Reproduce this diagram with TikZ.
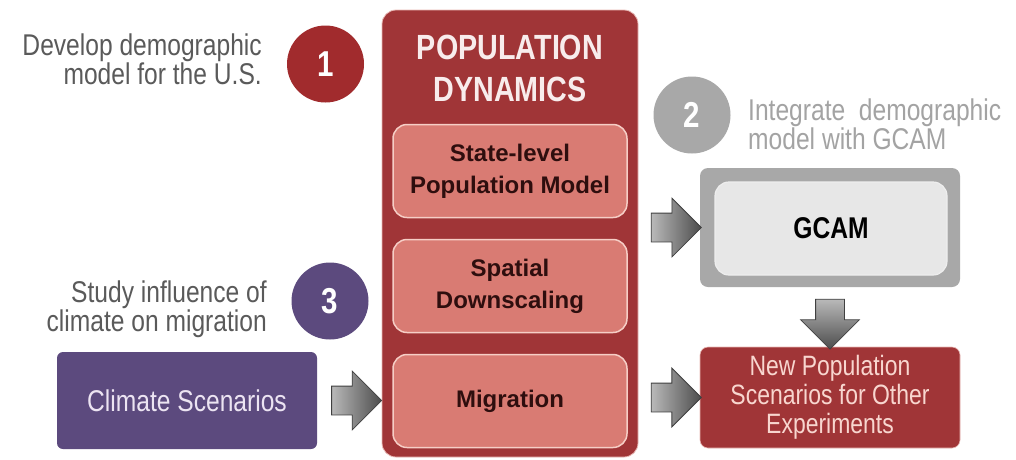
\documentclass[tikz,border=0pt]{standalone}
\usepackage{fontspec}
\setmainfont{Liberation Sans}[FakeStretch=0.82]
\newfontfamily\popwide{Liberation Sans}
\usepackage{tikz}
\usetikzlibrary{shapes.arrows,positioning,calc}
\definecolor{popRed}{HTML}{A03537}
\definecolor{popRedEdge}{HTML}{E9B9B5}
\definecolor{popStage}{HTML}{D97B73}
\definecolor{popStageEdge}{HTML}{F6CEC6}
\definecolor{popStageText}{HTML}{2E0E0E}
\definecolor{popTitle}{HTML}{F8ECEC}
\definecolor{popNum}{HTML}{A12B2D}
\definecolor{popPurple}{HTML}{5C4A7E}
\definecolor{popPurpleText}{HTML}{ECE4F2}
\definecolor{popGray}{HTML}{A8A8A8}
\definecolor{popLight}{HTML}{E7E7E7}
\definecolor{popNote}{HTML}{5A5A5A}
\definecolor{popNoteLight}{HTML}{A3A3A3}
\definecolor{popOutText}{HTML}{F8D6CF}
\tikzset{
  popbox/.style={rectangle,rounded corners=8pt,align=center,inner sep=2pt,
                 font=\fontsize{28}{29}\selectfont},
  popstage/.style={popbox,draw=popStageEdge,line width=1.5pt,fill=popStage,text=popStageText,
                   rounded corners=14pt,minimum width=234pt,minimum height=93pt,
                   font=\popwide\fontsize{24}{32}\selectfont\bfseries},
  popnum/.style={circle,minimum size=77pt,inner sep=0pt,text=white,
                 font=\fontsize{36}{36}\selectfont\bfseries},
  popnote/.style={inner sep=0pt,text=popNote,font=\fontsize{30}{29}\selectfont},
  popflow/.style={single arrow,draw=black!75,line width=0.8pt,minimum height=50pt,inner sep=14pt,
                  single arrow head extend=15pt,left color=gray!55,middle color=gray!25,right color=black!70},
  popdrop/.style={popflow,shape border rotate=270,top color=gray!55,middle color=gray!25,bottom color=black!70},
}
\begin{document}
\begin{tikzpicture}[x=1pt,y=-1pt,node distance=20.5pt]
  \path[use as bounding box,fill=white] (0,0) rectangle (1016,459);

  % population dynamics column
  \node[fill=popRed,draw=popRedEdge,line width=0.8pt,rounded corners=14pt,
        minimum width=256pt,minimum height=447pt] (pop) at (510,233.5) {};
  \node[align=center,inner sep=0pt,text=popTitle,font=\fontsize{35}{42}\selectfont\bfseries]
        (title) at (510,68.5) {POPULATION\\DYNAMICS};
  \node[popstage] (state) at (510,171) {State-level\\Population Model};
  \node[popstage,below=of state] (spatial) {Spatial\\Downscaling};
  \node[popstage,below=of spatial] (migr) {Migration};

  % inputs and outputs
  \node[popbox,fill=popPurple,text=popPurpleText,rounded corners=6pt,font=\fontsize{30}{30}\selectfont,
        minimum width=260pt,minimum height=97pt] (climate) at (187,400.5) {Climate Scenarios};
  \node[fill=popGray,rounded corners=8pt,minimum width=260pt,minimum height=119pt] (gcamframe) at (830,227.5) {};
  \node[popbox,fill=popLight,draw=white!80!popGray,line width=1.2pt,rounded corners=14pt,
        minimum width=232pt,minimum height=93pt,font=\fontsize{30}{30}\selectfont\bfseries] (gcam) at (831,228.5) {GCAM};
  \node[popbox,fill=popRed,draw=popRedEdge,line width=0.6pt,text=popOutText,
        minimum width=260pt,minimum height=101pt] (newpop) at (830,397.5) {New Population\\Scenarios for Other\\Experiments};

  % numbered steps
  \node[popnum,fill=popNum] (n1) at (325.5,64) {1};
  \node[popnum,fill=popGray] (n2) at (692,115) {2};
  \node[popnum,fill=popPurple] (n3) at (330,301) {3};
  \node[popnote,anchor=north east,align=right] (note1) at (262,34) {Develop demographic\\model for the U.S.};
  \node[popnote,anchor=north west,align=left,text=popNoteLight] (note2) at (748,99) {Integrate~ demographic\\model with GCAM};
  \node[popnote,anchor=north east,align=right] (note3) at (267,281) {Study influence of\\climate on migration};

  % block arrows
  \foreach \nm/\a/\b in {toGcam/pop.east |- gcamframe/gcamframe.west,
                         toNew/pop.east |- newpop/newpop.west,
                         toMigr/climate.east/pop.west |- climate}{
    \node[popflow] (\nm) at ($(\a)!0.5!(\b)$) {};}
  \node[popdrop] (gcamDown) at ($(gcamframe.south)!0.5!(newpop.north)$) {};
\end{tikzpicture}
\end{document}
